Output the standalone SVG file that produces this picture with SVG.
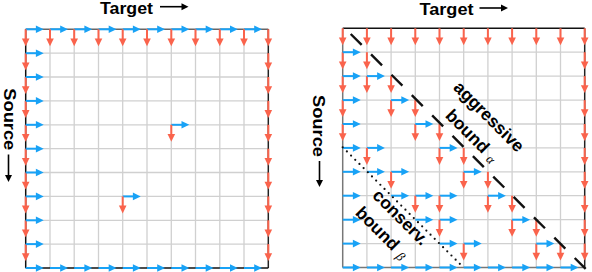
<svg xmlns="http://www.w3.org/2000/svg" xmlns:xlink="http://www.w3.org/1999/xlink" width="592" height="272" viewBox="0 0 592 272">
<style>
.grid line{stroke:#d0d0d0;stroke-width:1.3}
.lbl{font-family:"Liberation Sans",Arial,Helvetica,sans-serif;font-weight:bold;font-size:17px;fill:#000}
.diag{font-size:17.5px}
.math{font-family:"Liberation Serif","DejaVu Serif",serif;font-style:italic;font-weight:normal;font-size:13px}
.ax{stroke:#000;stroke-width:1.6}
</style>
<defs>
<g id="R"><line x1="0" y1="0" x2="0" y2="10" stroke="#fa634c" stroke-width="2"/><path d="M-3.8,9.2 L3.8,9.2 L0,17 Z" fill="#fa634c"/></g>
<g id="B"><line x1="0" y1="0" x2="11" y2="0" stroke="#18a2f6" stroke-width="2"/><path d="M10.2,-3.8 L10.2,3.8 L18,0 Z" fill="#18a2f6"/></g>
<path id="AH" d="M0,0 L-7,-3.5 L-7,3.5 Z" fill="#000"/>
</defs>

<!-- left grid -->
<g id="gridL" class="grid">
<line x1="50.0" y1="29.3" x2="50.0" y2="268"/><line x1="74.2" y1="29.3" x2="74.2" y2="268"/><line x1="98.5" y1="29.3" x2="98.5" y2="268"/><line x1="122.7" y1="29.3" x2="122.7" y2="268"/><line x1="147.0" y1="29.3" x2="147.0" y2="268"/><line x1="171.3" y1="29.3" x2="171.3" y2="268"/><line x1="195.5" y1="29.3" x2="195.5" y2="268"/><line x1="219.8" y1="29.3" x2="219.8" y2="268"/><line x1="244.0" y1="29.3" x2="244.0" y2="268"/>
<line x1="25.7" y1="53.2" x2="268.3" y2="53.2"/><line x1="25.7" y1="77.0" x2="268.3" y2="77.0"/><line x1="25.7" y1="100.9" x2="268.3" y2="100.9"/><line x1="25.7" y1="124.8" x2="268.3" y2="124.8"/><line x1="25.7" y1="148.7" x2="268.3" y2="148.7"/><line x1="25.7" y1="172.5" x2="268.3" y2="172.5"/><line x1="25.7" y1="196.4" x2="268.3" y2="196.4"/><line x1="25.7" y1="220.3" x2="268.3" y2="220.3"/><line x1="25.7" y1="244.1" x2="268.3" y2="244.1"/>
<line x1="25.7" y1="29.3" x2="268.3" y2="29.3" style="stroke:#666;stroke-width:1.5"/>
<line x1="25.7" y1="29.3" x2="25.7" y2="268" style="stroke:#111;stroke-width:1.5"/>
<line x1="268.3" y1="29.3" x2="268.3" y2="268" style="stroke:#222;stroke-width:1.5"/>
<line x1="25.7" y1="268" x2="268.3" y2="268" style="stroke:#111;stroke-width:1.5"/>
</g>

<!-- right grid -->
<g id="gridR" class="grid">
<line x1="366.9" y1="28.3" x2="366.9" y2="267.5"/><line x1="391.1" y1="28.3" x2="391.1" y2="267.5"/><line x1="415.3" y1="28.3" x2="415.3" y2="267.5"/><line x1="439.5" y1="28.3" x2="439.5" y2="267.5"/><line x1="463.7" y1="28.3" x2="463.7" y2="267.5"/><line x1="487.9" y1="28.3" x2="487.9" y2="267.5"/><line x1="512.1" y1="28.3" x2="512.1" y2="267.5"/><line x1="536.3" y1="28.3" x2="536.3" y2="267.5"/><line x1="560.5" y1="28.3" x2="560.5" y2="267.5"/>
<line x1="342.7" y1="52.2" x2="584.7" y2="52.2"/><line x1="342.7" y1="76.1" x2="584.7" y2="76.1"/><line x1="342.7" y1="100.1" x2="584.7" y2="100.1"/><line x1="342.7" y1="124.0" x2="584.7" y2="124.0"/><line x1="342.7" y1="147.9" x2="584.7" y2="147.9"/><line x1="342.7" y1="171.8" x2="584.7" y2="171.8"/><line x1="342.7" y1="195.7" x2="584.7" y2="195.7"/><line x1="342.7" y1="219.7" x2="584.7" y2="219.7"/><line x1="342.7" y1="243.6" x2="584.7" y2="243.6"/>
<line x1="342.7" y1="28.3" x2="584.7" y2="28.3" style="stroke:#111;stroke-width:1.5"/>
<line x1="342.7" y1="28.3" x2="342.7" y2="267.5" style="stroke:#777;stroke-width:1.5"/>
<line x1="584.7" y1="28.3" x2="584.7" y2="267.5" style="stroke:#222;stroke-width:1.5"/>
<line x1="342.7" y1="267.5" x2="584.7" y2="267.5" style="stroke:#777;stroke-width:1.5"/>
</g>

<!-- connectors: left grid -->
<g id="arrowsL">
<use href="#B" x="25.7" y="29.3"/><use href="#B" x="50.0" y="29.3"/><use href="#B" x="74.2" y="29.3"/><use href="#B" x="98.5" y="29.3"/><use href="#B" x="122.7" y="29.3"/><use href="#B" x="147.0" y="29.3"/><use href="#B" x="171.3" y="29.3"/><use href="#B" x="195.5" y="29.3"/><use href="#B" x="219.8" y="29.3"/><use href="#B" x="244.0" y="29.3"/>
<use href="#R" x="25.7" y="29.3"/><use href="#R" x="50.0" y="29.3"/><use href="#R" x="74.2" y="29.3"/><use href="#R" x="98.5" y="29.3"/><use href="#R" x="122.7" y="29.3"/><use href="#R" x="147.0" y="29.3"/><use href="#R" x="171.3" y="29.3"/><use href="#R" x="195.5" y="29.3"/><use href="#R" x="219.8" y="29.3"/><use href="#R" x="244.0" y="29.3"/><use href="#R" x="268.3" y="29.3"/>
<use href="#R" x="25.7" y="53.2"/><use href="#R" x="25.7" y="77.0"/><use href="#R" x="25.7" y="100.9"/><use href="#R" x="25.7" y="124.8"/><use href="#R" x="25.7" y="148.7"/><use href="#R" x="25.7" y="172.5"/><use href="#R" x="25.7" y="196.4"/><use href="#R" x="25.7" y="220.3"/><use href="#R" x="25.7" y="244.1"/>
<use href="#B" x="25.7" y="53.2"/><use href="#B" x="25.7" y="77.0"/><use href="#B" x="25.7" y="100.9"/><use href="#B" x="25.7" y="124.8"/><use href="#B" x="25.7" y="148.7"/><use href="#B" x="25.7" y="172.5"/><use href="#B" x="25.7" y="196.4"/><use href="#B" x="25.7" y="220.3"/><use href="#B" x="25.7" y="244.1"/>
<use href="#R" x="268.3" y="53.2"/><use href="#R" x="268.3" y="77.0"/><use href="#R" x="268.3" y="100.9"/><use href="#R" x="268.3" y="124.8"/><use href="#R" x="268.3" y="148.7"/><use href="#R" x="268.3" y="172.5"/><use href="#R" x="268.3" y="196.4"/><use href="#R" x="268.3" y="220.3"/><use href="#R" x="268.3" y="244.1"/>
<use href="#B" x="25.7" y="268"/><use href="#B" x="50.0" y="268"/><use href="#B" x="74.2" y="268"/><use href="#B" x="98.5" y="268"/><use href="#B" x="122.7" y="268"/><use href="#B" x="147.0" y="268"/><use href="#B" x="171.3" y="268"/><use href="#B" x="195.5" y="268"/><use href="#B" x="219.8" y="268"/><use href="#B" x="244.0" y="268"/>
<use href="#B" x="171.3" y="124.8"/><use href="#R" x="171.3" y="124.8"/>
<use href="#B" x="122.7" y="196.4"/><use href="#R" x="122.7" y="196.4"/>
</g>

<!-- connectors: right grid -->
<g id="arrowsR">
<use href="#R" x="342.7" y="28.3"/><use href="#R" x="366.9" y="28.3"/><use href="#R" x="391.1" y="28.3"/><use href="#R" x="415.3" y="28.3"/><use href="#R" x="439.5" y="28.3"/><use href="#R" x="463.7" y="28.3"/><use href="#R" x="487.9" y="28.3"/><use href="#R" x="512.1" y="28.3"/><use href="#R" x="536.3" y="28.3"/><use href="#R" x="560.5" y="28.3"/><use href="#R" x="584.7" y="28.3"/>
<use href="#R" x="584.7" y="52.2"/><use href="#R" x="584.7" y="76.1"/><use href="#R" x="584.7" y="100.1"/><use href="#R" x="584.7" y="124.0"/><use href="#R" x="584.7" y="147.9"/><use href="#R" x="584.7" y="171.8"/><use href="#R" x="584.7" y="195.7"/><use href="#R" x="584.7" y="219.7"/><use href="#R" x="584.7" y="243.6"/>
<use href="#R" x="342.7" y="52.2"/><use href="#R" x="342.7" y="76.1"/><use href="#R" x="342.7" y="100.1"/><use href="#R" x="342.7" y="124.0"/>
<use href="#B" x="342.7" y="52.2"/><use href="#B" x="342.7" y="76.1"/><use href="#B" x="342.7" y="100.1"/><use href="#B" x="342.7" y="124.0"/><use href="#B" x="342.7" y="147.9"/><use href="#B" x="342.7" y="171.8"/><use href="#B" x="342.7" y="195.7"/><use href="#B" x="342.7" y="219.7"/><use href="#B" x="342.7" y="243.6"/>
<use href="#B" x="342.7" y="267.5"/><use href="#B" x="366.9" y="267.5"/><use href="#B" x="391.1" y="267.5"/><use href="#B" x="415.3" y="267.5"/><use href="#B" x="439.5" y="267.5"/><use href="#B" x="463.7" y="267.5"/><use href="#B" x="487.9" y="267.5"/><use href="#B" x="512.1" y="267.5"/><use href="#B" x="536.3" y="267.5"/><use href="#B" x="560.5" y="267.5"/>
<use href="#R" x="366.9" y="52.2"/>
<use href="#R" x="366.9" y="76.1"/><use href="#R" x="391.1" y="76.1"/><use href="#B" x="366.9" y="76.1"/>
<use href="#R" x="391.1" y="100.1"/><use href="#R" x="415.3" y="100.1"/><use href="#B" x="391.1" y="100.1"/>
<use href="#R" x="415.3" y="124.0"/><use href="#R" x="439.5" y="124.0"/><use href="#B" x="415.3" y="124.0"/>
<use href="#R" x="439.5" y="147.9"/><use href="#R" x="463.7" y="147.9"/><use href="#B" x="439.5" y="147.9"/>
<use href="#R" x="463.7" y="171.8"/><use href="#R" x="487.9" y="171.8"/><use href="#B" x="463.7" y="171.8"/>
<use href="#R" x="487.9" y="195.7"/><use href="#R" x="512.1" y="195.7"/><use href="#B" x="487.9" y="195.7"/>
<use href="#R" x="512.1" y="219.7"/><use href="#R" x="536.3" y="219.7"/><use href="#B" x="512.1" y="219.7"/>
<use href="#R" x="536.3" y="243.6"/><use href="#R" x="560.5" y="243.6"/><use href="#B" x="536.3" y="243.6"/>
<use href="#B" x="366.9" y="147.9"/><use href="#R" x="366.9" y="147.9"/>
<use href="#B" x="366.9" y="171.8"/><use href="#B" x="391.1" y="171.8"/><use href="#R" x="391.1" y="171.8"/>
<use href="#B" x="391.1" y="195.7"/><use href="#B" x="415.3" y="195.7"/><use href="#R" x="415.3" y="195.7"/>
<use href="#B" x="415.3" y="219.7"/><use href="#B" x="439.5" y="219.7"/><use href="#R" x="439.5" y="219.7"/>
<use href="#B" x="439.5" y="243.6"/><use href="#B" x="463.7" y="243.6"/><use href="#R" x="463.7" y="243.6"/>
<use href="#B" x="439.5" y="195.7"/><use href="#R" x="439.5" y="195.7"/>
</g>

<!-- bounds -->
<g id="bounds">
<line x1="350.7" y1="34" x2="586" y2="269.3" stroke="#111" stroke-width="2.4" stroke-dasharray="15.5 13.3"/>
<line x1="342.7" y1="147.3" x2="462" y2="266" stroke="#111" stroke-width="2.2" stroke-linecap="round" stroke-dasharray="0 5.9"/>
</g>

<!-- axis labels -->
<g id="axisL">
<text class="lbl" x="100" y="14" textLength="53" lengthAdjust="spacingAndGlyphs">Target</text>
<line class="ax" x1="160" y1="6.7" x2="182" y2="6.7"/><use href="#AH" x="188.5" y="6.7"/>
<text class="lbl" transform="translate(3.8,88.3) rotate(90)" textLength="62" lengthAdjust="spacingAndGlyphs">Source</text>
<line class="ax" x1="8.5" y1="154.5" x2="8.5" y2="175.5"/><use href="#AH" transform="translate(8.5,182) rotate(90)"/>
</g>
<g id="axisR">
<text class="lbl" x="419.5" y="15.2" textLength="54" lengthAdjust="spacingAndGlyphs">Target</text>
<line class="ax" x1="479.5" y1="8" x2="501.5" y2="8"/><use href="#AH" x="508" y="8"/>
<text class="lbl" transform="translate(313,95) rotate(90)" textLength="62" lengthAdjust="spacingAndGlyphs">Source</text>
<line class="ax" x1="319.5" y1="161" x2="319.5" y2="180.5"/><use href="#AH" transform="translate(319.5,187) rotate(90)"/>
</g>

<!-- bound labels -->
<g id="labelAggressive">
<text class="lbl diag" transform="translate(452.5,88.5) rotate(45)">aggressive</text>
<text class="lbl diag" transform="translate(444.5,116.5) rotate(45)">bound<tspan class="math" dx="6" dy="2">α</tspan></text>
</g>
<g id="labelConserv">
<text class="lbl diag" transform="translate(371.5,196.5) rotate(45)">conserv.</text>
<text class="lbl diag" transform="translate(354.5,213.7) rotate(45)">bound<tspan class="math" dx="6" dy="2">β</tspan></text>
</g>
</svg>
